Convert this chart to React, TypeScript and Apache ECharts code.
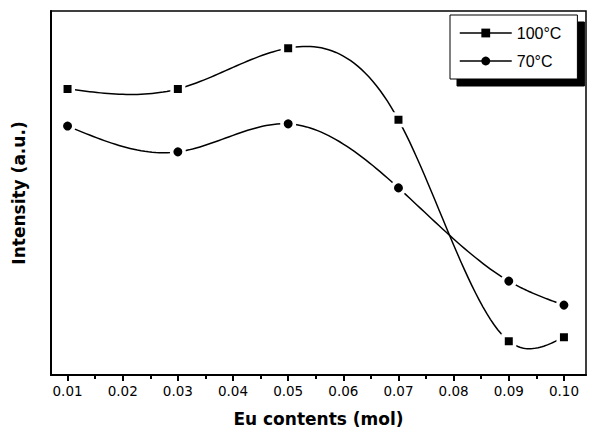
import React, { useEffect, useRef } from "react";
import * as echarts from "echarts";

const xValues = [0.01, 0.03, 0.05, 0.07, 0.09, 0.1];
const series100 = [78.6, 78.6, 89.8, 70.1, 9.3, 10.4];
const series70 = [68.4, 61.3, 69.0, 51.4, 25.8, 19.2];
const tickLabels = [0.01, 0.02, 0.03, 0.04, 0.05, 0.06, 0.07, 0.08, 0.09, 0.1];
const minorTicks = [0.015, 0.025, 0.035, 0.045, 0.055, 0.065, 0.075, 0.085, 0.095];
const seriesNames = ["100°C", "70°C"];

// natural cubic spline through pixel points, returns sampled polyline
function splinePoints(pts: number[][]): number[][] {
  const n = pts.length;
  const xs = pts.map((p) => p[0]);
  const ys = pts.map((p) => p[1]);
  const h: number[] = [];
  for (let i = 0; i < n - 1; i++) h.push(xs[i + 1] - xs[i]);
  const a = new Array(n).fill(0);
  const b = new Array(n).fill(0);
  const c = new Array(n).fill(0);
  const d = new Array(n).fill(0);
  b[0] = 1;
  b[n - 1] = 1;
  for (let i = 1; i < n - 1; i++) {
    a[i] = h[i - 1];
    b[i] = 2 * (h[i - 1] + h[i]);
    c[i] = h[i];
    d[i] = 6 * ((ys[i + 1] - ys[i]) / h[i] - (ys[i] - ys[i - 1]) / h[i - 1]);
  }
  // Thomas algorithm
  const cp = new Array(n).fill(0);
  const dp = new Array(n).fill(0);
  cp[0] = c[0] / b[0];
  dp[0] = d[0] / b[0];
  for (let i = 1; i < n; i++) {
    const m = b[i] - a[i] * cp[i - 1];
    cp[i] = c[i] / m;
    dp[i] = (d[i] - a[i] * dp[i - 1]) / m;
  }
  const M = new Array(n).fill(0);
  M[n - 1] = dp[n - 1];
  for (let i = n - 2; i >= 0; i--) M[i] = dp[i] - cp[i] * M[i + 1];
  const out: number[][] = [];
  for (let i = 0; i < n - 1; i++) {
    const steps = 30;
    for (let s = 0; s <= steps; s++) {
      if (i > 0 && s === 0) continue;
      const t = s / steps;
      const x = xs[i] + t * h[i];
      const A = 1 - t;
      const B = t;
      const y =
        A * ys[i] +
        B * ys[i + 1] +
        ((A * A * A - A) * M[i] + (B * B * B - B) * M[i + 1]) * (h[i] * h[i]) / 6;
      out.push([x, y]);
    }
  }
  return out;
}

export default function App() {
  const ref = useRef<HTMLDivElement>(null);
  useEffect(() => {
    if (!ref.current) return;
    const chart = echarts.init(ref.current, null, { renderer: "svg" });
    const font = "DejaVu Sans";
    const mk = (vals: number[]) => xValues.map((x, i) => [x, vals[i]]);
    const curve = (vals: number[]) => ({
      type: "custom",
      coordinateSystem: "cartesian2d",
      silent: true,
      z: 1,
      data: mk(vals),
      encode: { x: 0, y: 1 },
      renderItem: (params: any, api: any) => {
        if (params.dataIndex !== 0) return null;
        const pts = xValues.map((x, i) => api.coord([x, vals[i]]));
        return {
          type: "polyline",
          shape: { points: splinePoints(pts) },
          style: { stroke: "#000", lineWidth: 1.5, fill: "none" },
        };
      },
    });
    const markers = (name: string, vals: number[], symbol: string, size: number) => ({
      name,
      type: "line",
      z: 3,
      data: mk(vals),
      symbol,
      symbolSize: size,
      itemStyle: { color: "#000", borderColor: "#fff", borderWidth: 3.5 },
      lineStyle: { color: "#000", width: 0, opacity: 0 },
    });
    chart.setOption({
      animation: false,
      backgroundColor: "#fff",
      grid: { left: 51, right: 6, top: 11, bottom: 57, show: true, borderColor: "#000", borderWidth: 1.5 },
      legend: {
        orient: "vertical",
        left: 450,
        top: 15,
        padding: [10, 16, 10, 9],
        itemGap: 12,
        itemWidth: 52,
        itemHeight: 11,
        backgroundColor: "#fff",
        borderColor: "#000",
        borderWidth: 1,
        shadowColor: "#000",
        shadowBlur: 0,
        shadowOffsetX: 7,
        shadowOffsetY: 7,
        itemStyle: { borderWidth: 0 },
        lineStyle: { width: 1.5, color: "#000", opacity: 1 },
        textStyle: { fontFamily: "Liberation Sans", fontSize: 16, color: "#000" },
        data: seriesNames,
      },
      xAxis: [
        {
          type: "value",
          min: 0.007,
          max: 0.104,
          axisLine: { show: true, lineStyle: { color: "#000", width: 2 } },
          axisTick: { show: true, customValues: tickLabels, length: 6, lineStyle: { width: 2, color: "#000" } },
          axisLabel: {
            customValues: tickLabels,
            formatter: (v: number) => v.toFixed(2),
            fontFamily: font,
            fontSize: 13.5,
            color: "#000",
            margin: 9,
          },
          splitLine: { show: false },
          name: "Eu contents (mol)",
          nameLocation: "middle",
          nameGap: 35,
          nameTextStyle: { fontFamily: font, fontWeight: "bold", fontSize: 17, color: "#000" },
        },
        {
          type: "value",
          min: 0.007,
          max: 0.104,
          position: "bottom",
          axisLine: { show: false },
          axisTick: { show: true, customValues: minorTicks, length: 4, lineStyle: { width: 2, color: "#000" } },
          axisLabel: { show: false },
          splitLine: { show: false },
        },
      ],
      yAxis: {
        type: "value",
        min: 0,
        max: 100,
        axisLine: { show: true, lineStyle: { color: "#000", width: 2 } },
        axisTick: { show: false },
        axisLabel: { show: false },
        splitLine: { show: false },
        name: "Intensity (a.u.)",
        nameLocation: "middle",
        nameGap: 24,
        nameTextStyle: { fontFamily: font, fontWeight: "bold", fontSize: 17, color: "#000" },
      },
      series: [
        curve(series100),
        curve(series70),
        markers(seriesNames[0], series100, "rect", 11.5),
        markers(seriesNames[1], series70, "circle", 12.5),
      ],
    });
    return () => chart.dispose();
  }, []);
  return <div ref={ref} style={{ width: 592, height: 432, position: "absolute", left: 0, top: 0 }} />;
}
